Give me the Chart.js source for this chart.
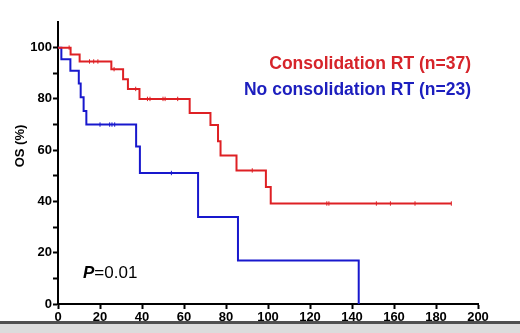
<!DOCTYPE html>
<html><head><meta charset="utf-8">
<script src="https://cdn.jsdelivr.net/npm/chart.js@4/dist/chart.umd.min.js"></script>
<style>html,body{margin:0;padding:0;background:#fff;}#wrap{width:520px;height:333px;position:relative;}</style>
</head><body><div id="wrap"><canvas id="c" width="520" height="333"></canvas></div>
<script>
// Kaplan-Meier: Consolidation RT (n=37)
const redTimes = [0, 6, 10.3, 25.4, 31, 33.3, 38.8, 62.7, 72.6, 76.2, 77.4, 85, 99, 101.3, 187.3];
const redSurv  = [100, 97.3, 94.6, 91.6, 87.7, 83.9, 80, 74.5, 69.8, 63.5, 57.9, 52.1, 45.6, 39.2, 39.2];
const redCensorTimes = [5.3, 15, 17, 19, 26.7, 37, 42.6, 43.8, 50, 51, 57, 92.5, 128, 129, 151.6, 158.3, 170, 187.3];
const redCensorSurv  = [100, 94.6, 94.6, 94.6, 91.6, 83.9, 80, 80, 80, 80, 80, 52.1, 39.2, 39.2, 39.2, 39.2, 39.2, 39.2];
// No consolidation RT (n=23)
const blueTimes = [0, 1.6, 5.9, 9.9, 10.8, 12.2, 13.5, 37.2, 39, 66.7, 85.7, 143.2];
const blueSurv  = [100, 95.5, 91, 86, 80.6, 75.3, 70, 61.4, 51.1, 33.9, 17, 0];
const blueCensorTimes = [20, 24.6, 25.7, 27, 54];
const blueCensorSurv  = [70, 70, 70, 70, 51.1];
const xTicks = [0, 20, 40, 60, 80, 100, 120, 140, 160, 180, 200];
const yTickLabels = [0, 20, 40, 60, 80, 100];
const redLabel = 'Consolidation RT (n=37)';
const blueLabel = 'No consolidation RT (n=23)';
const yTitle = 'OS (%)';

const RED = 'rgb(222,32,36)';
const BLUE = 'rgb(24,24,205)';
const pts = (xs, ys) => xs.map((x, i) => ({x: x, y: ys[i]}));

const textPlugin = {
  id: 'texts',
  beforeDraw(chart) {
    const ctx = chart.ctx;
    ctx.save();
    ctx.fillStyle = '#fff';
    ctx.fillRect(0, 0, chart.width, chart.height);
    ctx.fillStyle = 'rgb(80,80,80)';
    ctx.fillRect(0, 321, chart.width, 3);
    ctx.fillStyle = 'rgb(220,220,220)';
    ctx.fillRect(0, 324, chart.width, 9);
    ctx.restore();
  },
  afterDraw(chart) {
    const ctx = chart.ctx;
    ctx.save();
    ctx.textBaseline = 'middle';
    ctx.textAlign = 'right';
    ctx.font = 'bold 17.5px "Liberation Sans", Arial, sans-serif';
    ctx.fillStyle = 'rgb(214,36,42)';
    ctx.fillText(redLabel, 471, 64);
    ctx.fillStyle = 'rgb(28,30,190)';
    ctx.fillText(blueLabel, 471, 90);
    // P value
    ctx.textAlign = 'left';
    ctx.fillStyle = '#000';
    ctx.font = 'italic bold 17px "Liberation Sans", Arial, sans-serif';
    ctx.fillText('P', 83, 273);
    const w = ctx.measureText('P').width;
    ctx.font = '17px "Liberation Sans", Arial, sans-serif';
    ctx.fillText('=0.01', 83 + w, 273);
    // y title
    ctx.translate(20, 146);
    ctx.rotate(-Math.PI / 2);
    ctx.textAlign = 'center';
    ctx.font = 'bold 13px "Liberation Sans", Arial, sans-serif';
    ctx.fillText(yTitle, 0, 0);
    ctx.restore();
  }
};

new Chart(document.getElementById('c'), {
  type: 'scatter',
  data: {
    datasets: [
      {label: redLabel, data: pts(redTimes, redSurv), showLine: true, stepped: 'before',
       borderColor: RED, borderWidth: 2, pointRadius: 0, fill: false},
      {label: blueLabel, data: pts(blueTimes, blueSurv), showLine: true, stepped: 'before',
       borderColor: BLUE, borderWidth: 2, pointRadius: 0, fill: false},
      {label: 'red censored', data: pts(redCensorTimes, redCensorSurv), showLine: false,
       pointStyle: 'line', rotation: 90, pointRadius: 2.2, borderColor: RED, borderWidth: 1},
      {label: 'blue censored', data: pts(blueCensorTimes, blueCensorSurv), showLine: false,
       pointStyle: 'line', rotation: 90, pointRadius: 2.2, borderColor: BLUE, borderWidth: 1}
    ]
  },
  options: {
    responsive: false,
    animation: false,
    events: [],
    layout: {padding: {top: 22, right: 42, left: 0, bottom: 0}},
    plugins: {legend: {display: false}, tooltip: {enabled: false}},
    scales: {
      x: {
        type: 'linear', min: 0, max: 200,
        afterBuildTicks(ax) { ax.ticks = xTicks.map(v => ({value: v})); },
        afterFit(ax) { ax.height = 29; },
        border: {display: true, color: '#000', width: 2},
        grid: {display: true, drawOnChartArea: false, drawTicks: true, tickLength: 5, tickColor: '#000', tickWidth: 2},
        ticks: {color: '#000', padding: 1, maxRotation: 0, font: {family: '"Liberation Sans", Arial, sans-serif', size: 13, weight: 'bold'}}
      },
      y: {
        type: 'linear', min: 0, max: 110,
        afterBuildTicks(ax) {
          const t = [];
          for (let v = 0; v <= 100; v += 10) t.push({value: v});
          ax.ticks = t;
        },
        afterFit(ax) { ax.width = 58; },
        border: {display: true, color: '#000', width: 2},
        grid: {display: true, drawOnChartArea: false, drawTicks: true, tickLength: 5, tickColor: '#000', tickWidth: 2},
        ticks: {color: '#000', padding: 1,
          callback: v => (yTickLabels.includes(v) ? String(v) : ''),
          font: {family: '"Liberation Sans", Arial, sans-serif', size: 13, weight: 'bold'}}
      }
    }
  },
  plugins: [textPlugin]
});
</script></body></html>
